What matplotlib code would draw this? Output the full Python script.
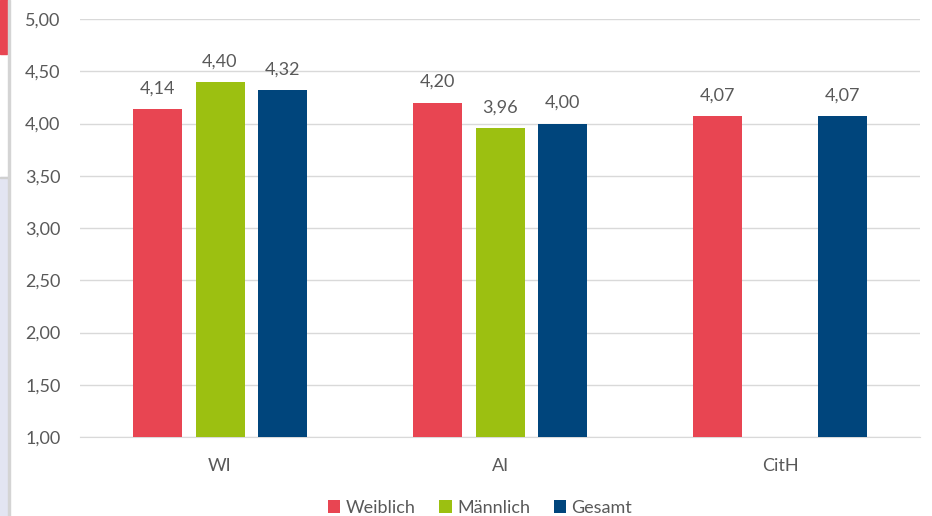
import matplotlib
matplotlib.use("Agg")
import matplotlib.pyplot as plt
import numpy as np
from matplotlib.patches import Rectangle

categories = ["WI", "AI", "CitH"]
series_names = ["Weiblich", "Männlich", "Gesamt"]
weiblich = [4.14, 4.20, 4.07]
maennlich = [4.40, 3.96, None]
gesamt = [4.32, 4.00, 4.07]
yticks = [1.00, 1.50, 2.00, 2.50, 3.00, 3.50, 4.00, 4.50, 5.00]
colors = ["#E84552", "#9CC011", "#00457C"]

plt.rcParams['font.family'] = ['Lato', 'DejaVu Sans']
W, H = 932, 516
fig = plt.figure(figsize=(W / 100, H / 100), dpi=100)
ax = fig.add_axes([80 / W, 1 - 437 / H, 840 / W, 418 / H])

x = np.arange(len(categories))
offsets = [-0.223, 0.0, 0.223]
width = 0.175
txtcol = "#595959"
fs = 13
for vals, off, col, name in zip([weiblich, maennlich, gesamt], offsets, colors, series_names):
    xs = [xi + off for xi, v in zip(x, vals) if v is not None]
    vs = [v for v in vals if v is not None]
    ax.bar(xs, [v - 1.0 for v in vs], bottom=1.0, width=width, color=col, label=name, zorder=3)
    for xi, v in zip(xs, vs):
        ax.annotate(f"{v:.2f}".replace(".", ","), (xi, v), xytext=(0, 9), textcoords="offset points",
                    ha="center", va="bottom", fontsize=fs, color=txtcol, zorder=4)

ax.set_xlim(-0.5, 2.5)
ax.set_ylim(1.0, 5.0)
ax.set_yticks(yticks)
ax.set_yticklabels([f"{t:.2f}".replace(".", ",") for t in yticks], fontsize=fs, color=txtcol)
ax.set_xticks(x)
ax.set_xticklabels(categories, fontsize=fs, color=txtcol)
ax.tick_params(axis="both", length=0)
ax.tick_params(axis="y", pad=14)
ax.tick_params(axis="x", pad=15)
ax.yaxis.grid(True, color="#D9D9D9", linewidth=1, zorder=0)
for s in ["top", "right", "left"]:
    ax.spines[s].set_visible(False)
ax.spines["bottom"].set_color("#D9D9D9")
ax.set_axisbelow(True)

leg = fig.legend(loc="center", bbox_to_anchor=(480 / W, 1 - 508 / H), ncol=3, frameon=False,
                 fontsize=fs, handlelength=0.7, handleheight=0.7, handletextpad=0.3, columnspacing=1.3)
for t in leg.get_texts():
    t.set_color(txtcol)

# left edge decorations
fig.patches.append(Rectangle((0, 1 - 54 / H), 7 / W, 54 / H, transform=fig.transFigure, color="#E84552", zorder=0))
fig.patches.append(Rectangle((0, 0), 8 / W, 1 - 177 / H, transform=fig.transFigure, color="#E3E5F2", zorder=0))
fig.patches.append(Rectangle((0, 1 - 178 / H), 8 / W, 1 / H, transform=fig.transFigure, color="#D0D0D0", zorder=0))
fig.patches.append(Rectangle((8 / W, 0), 2 / W, 1, transform=fig.transFigure, color="#D4D4D4", zorder=0))

fig.savefig("out.png", dpi=100)
